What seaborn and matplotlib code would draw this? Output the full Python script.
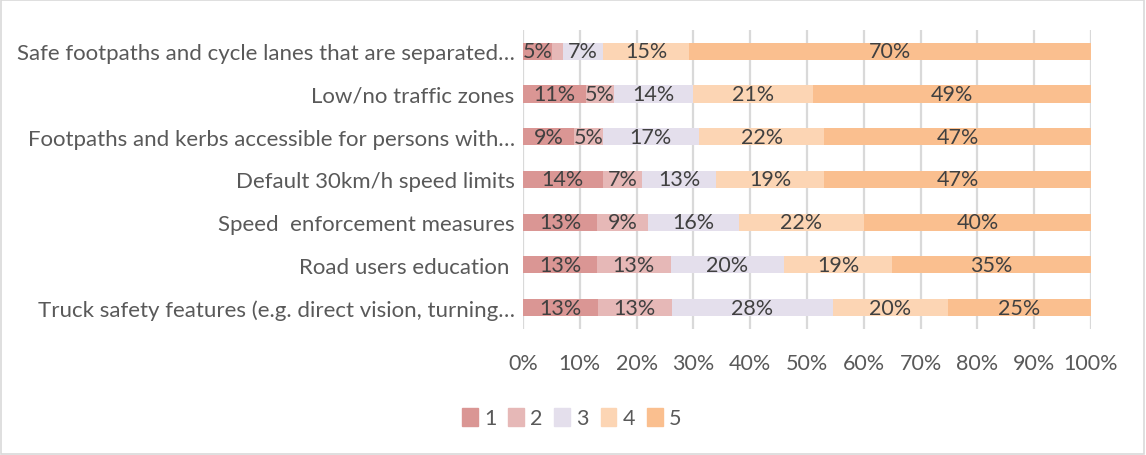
import matplotlib
matplotlib.use("Agg")
import matplotlib.pyplot as plt
import matplotlib.patches as mpatches
import numpy as np
import pandas as pd
import seaborn as sns

categories = [
    "Safe footpaths and cycle lanes that are separated…",
    "Low/no traffic zones",
    "Footpaths and kerbs accessible for persons with…",
    "Default 30km/h speed limits",
    "Speed  enforcement measures",
    "Road users education ",
    "Truck safety features (e.g. direct vision, turning…",
]
levels = ["1", "2", "3", "4", "5"]
s1 = [5, 11, 9, 14, 13, 13, 13]
s2 = [2, 5, 5, 7, 9, 13, 13]
s3 = [7, 14, 17, 13, 16, 20, 28]
s4 = [15, 21, 22, 19, 22, 19, 20]
s5 = [70, 49, 47, 47, 40, 35, 25]
colors = ["#da9694", "#e6b8b7", "#e4dfec", "#fcd5b4", "#fabf8f"]
xticks = [0, 10, 20, 30, 40, 50, 60, 70, 80, 90, 100]

sns.set_theme(style="white")
plt.rcParams["font.family"] = ["Lato", "DejaVu Sans"]

FS = 15.5

series = np.array([s1, s2, s3, s4, s5], dtype=float)
totals = series.sum(axis=0)
share = series / totals * 100
cum = np.cumsum(share, axis=0)

fig = plt.figure(figsize=(11.46, 4.56), dpi=100)
ax = fig.add_axes([0.4564, 0.2763, 0.4956, 0.656])

for k in range(4, -1, -1):
    df = pd.DataFrame({"cat": categories, "val": cum[k]})
    sns.barplot(data=df, x="val", y="cat", color=colors[k], orient="h",
                width=0.4, saturation=1, linewidth=0, ax=ax, zorder=3)

for k in range(5):
    for i in range(len(categories)):
        v = series[k, i]
        if v < 3:
            continue
        center = cum[k, i] - share[k, i] / 2
        ax.text(center, i, f"{int(v)}%", ha="center", va="center",
                fontsize=FS, color="#404040", zorder=4)

ax.set_xlim(0, 100)
ax.set_ylim(6.5, -0.5)
ax.set_xticks(xticks)
ax.set_xticklabels([f"{t}%" for t in xticks], fontsize=FS, color="#595959")
ax.tick_params(axis="y", labelsize=16, labelcolor="#595959", length=0, pad=6)
ax.tick_params(axis="x", length=0, pad=17)
ax.set_xlabel("")
ax.set_ylabel("")
ax.xaxis.grid(True, color="#d9d9d9", linewidth=1.6, zorder=0)
ax.set_axisbelow(True)
for sp in ax.spines.values():
    sp.set_visible(False)

handles = [mpatches.Patch(color=c, label=l) for c, l in zip(colors, levels)]
fig.legend(handles=handles, loc="center", bbox_to_anchor=(0.499, 0.081), ncol=5,
           frameon=False, fontsize=FS, handlelength=0.72, handleheight=0.95,
           handletextpad=0.3, columnspacing=0.55, labelcolor="#595959")

fig.patches.append(mpatches.Rectangle((0.001, 0.002), 0.997, 0.996, transform=fig.transFigure,
                                      fill=False, edgecolor="#d9d9d9", linewidth=1.2))

fig.savefig("out.png", dpi=100)
